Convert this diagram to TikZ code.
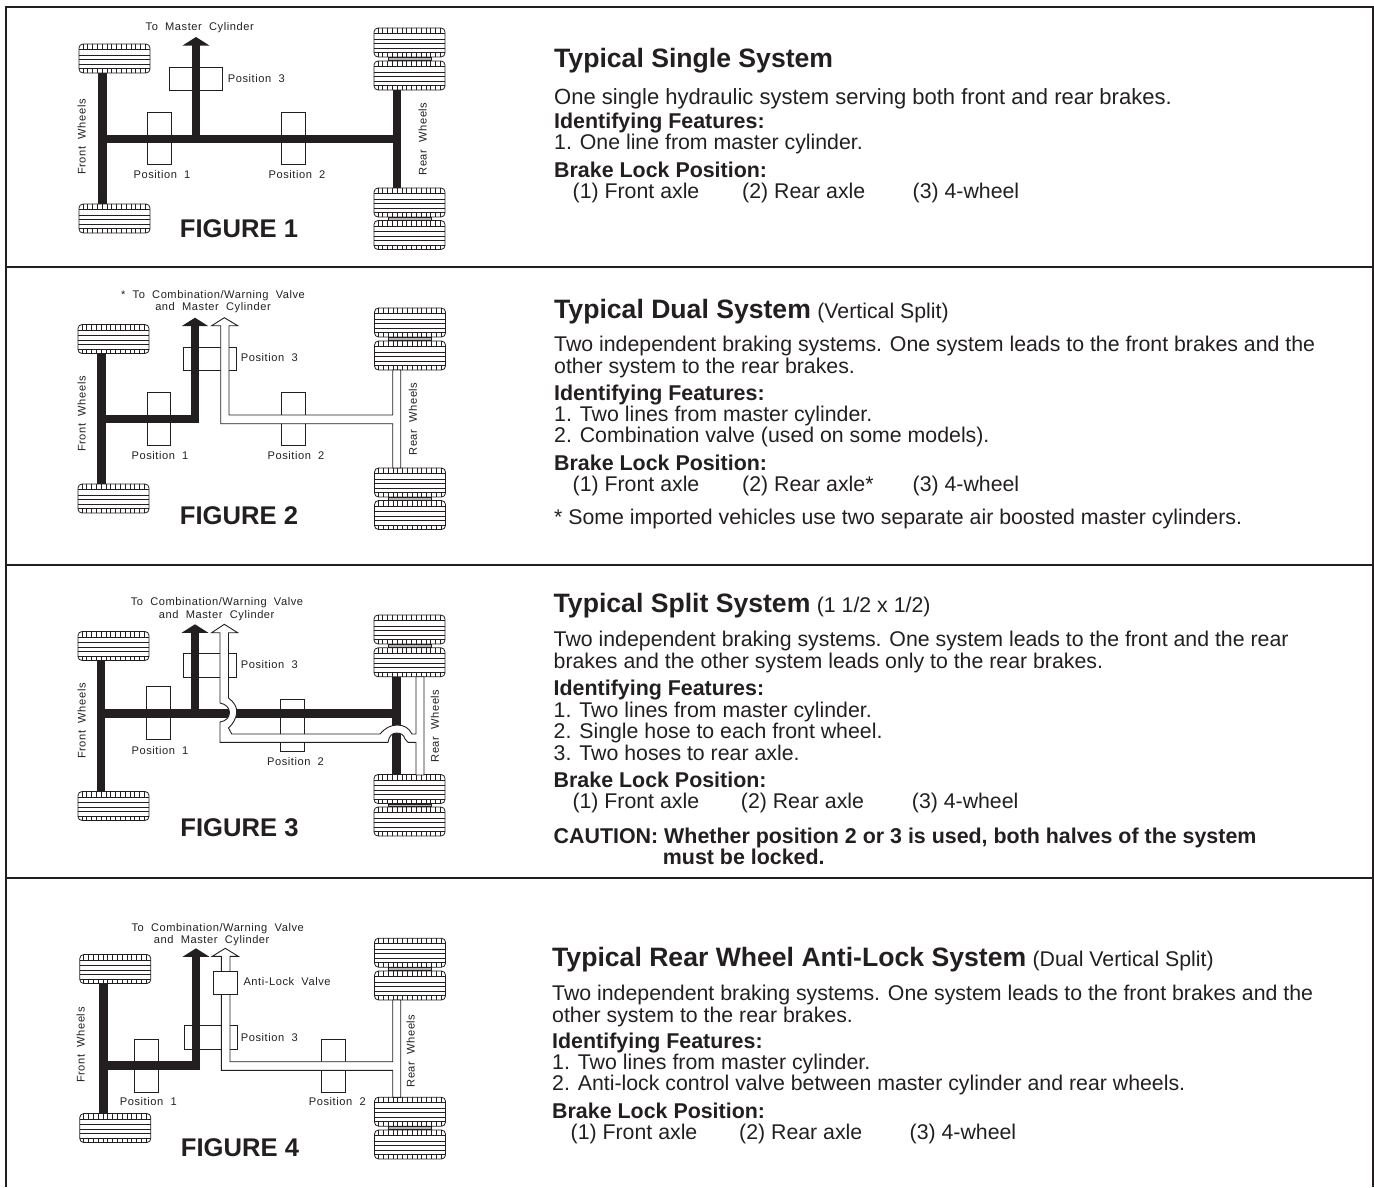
\documentclass[tikz,border=0pt]{standalone}
\usepackage{fontspec}
\setmainfont{Liberation Sans}
\newfontfamily\cadfont[LetterSpace=5,WordSpace=2]{Liberation Sans}
\usetikzlibrary{arrows.meta,positioning}
\definecolor{inkgrey}{RGB}{35,31,32}
\tikzset{
  tyre/.style={draw=inkgrey, line width=0.8pt, fill=white, rounded corners=4pt,
    minimum width=71pt, minimum height=29pt, inner sep=0pt,
    path picture={
      \foreach \ty in {5.5,11,15.5,20,24.5}
        \draw[line width=0.7pt, inkgrey] ([yshift=-\ty pt]path picture bounding box.north west) -- ([yshift=-\ty pt]path picture bounding box.north east);
      \foreach \tx in {4,8.8,...,68} {
        \draw[line width=0.7pt, inkgrey] ([xshift=\tx pt]path picture bounding box.north west) -- ++(0,-5.5pt);
        \draw[line width=0.7pt, inkgrey] ([xshift=\tx pt]path picture bounding box.south west) -- ++(0,4.5pt);
      }
    }},
  axle/.style={line width=8.5pt, inkgrey},
  arrowaxle/.style={axle, -{Triangle[length=8.5pt,width=26.5pt]}},
  hollowpipe/.style={draw=inkgrey, line width=0.9pt, fill=white},
  posbox/.style={draw=inkgrey, line width=0.9pt, fill=white, inner sep=0pt},
  posv/.style={posbox, minimum width=23.6pt, minimum height=52.6pt},
  posh/.style={posbox, minimum width=53pt, minimum height=23.4pt},
  twinlink/.style={draw=inkgrey, line width=0.6pt, fill=black!30},
  cadlabel/.style={font=\cadfont\fontsize{11.1}{12}\selectfont, text=inkgrey, inner sep=0pt},
  figlabel/.style={font=\bfseries\fontsize{25.6}{30}\selectfont, text=inkgrey, inner sep=0pt},
  titletext/.style={font=\bfseries\fontsize{26.6}{30}\selectfont, text=inkgrey, inner sep=0pt, anchor=base west},
  subtext/.style={font=\fontsize{21.3}{25}\selectfont, text=inkgrey, inner sep=0pt, anchor=base west},
  headtext/.style={font=\bfseries\fontsize{21.4}{25}\selectfont, text=inkgrey, inner sep=0pt, anchor=base west},
  bodytext/.style={font=\fontsize{21.3}{25}\selectfont, text=inkgrey, inner sep=0pt, anchor=base west},
  widebody/.style={bodytext, font=\fontsize{22}{25}\selectfont},
  frameline/.style={line width=2pt, inkgrey}
}
\newcommand{\twin}[2]{\draw[twinlink] ([xshift=-21.5pt]#1.south) rectangle ([xshift=21.5pt]#2.north);}
\begin{document}
\begin{tikzpicture}[x=1pt,y=-1pt]
  \useasboundingbox (0,0) rectangle (1374,1187);

  % Frame
  \draw[frameline] (6,1187) -- (6,7) -- (1373,7) -- (1373,1187);
  \draw[frameline] (6,267) -- (1373,267);
  \draw[frameline] (6,565) -- (1373,565);
  \draw[frameline] (6,878) -- (1373,878);

  % Figure 1
  \node[posv] (pos1a) at (159.5,138.5) {};
  \node[posv] (pos1b) at (293.5,138.5) {};
  \node[posh] (pos1c) at (196.3,79) {};
  \node[tyre] (ftop1) at (114.5,58.5) {};
  \node[tyre] (fbot1) at (114.5,218.5) {};
  \node[tyre] (rupa1) at (409.5,42.5) {};
  \node[tyre] (rupb1) at (409.5,75.5) {};
  \node[tyre] (rlowa1) at (409.5,202.5) {};
  \node[tyre] (rlowb1) at (409.5,235) {};
  \twin{rupa1}{rupb1}
  \twin{rlowa1}{rlowb1}
  \coordinate (jleft1) at (102.5,139);
  \coordinate (jright1) at (397,139);
  \coordinate (jmid1) at (196,139);
  \coordinate (tip1) at (196,37);
  \draw[axle] ([xshift=-12pt]ftop1.south) -- ([xshift=-12pt]fbot1.north);
  \draw[axle] ([xshift=-12.5pt]rupb1.south) -- ([xshift=-12.5pt]rlowa1.north);
  \draw[axle] (jleft1) -- (jright1);
  \draw[arrowaxle] (jmid1) -- (tip1);
  \node[cadlabel] (to1) at (199.7,28) {To Master Cylinder};
  \node[cadlabel, anchor=west] (lab1c) at (227.7,79) {Position 3};
  \node[cadlabel] (lab1a) at (162,175) {Position 1};
  \node[cadlabel] (lab1b) at (297,175) {Position 2};
  \node[cadlabel, rotate=90] (lab1f) at (81.7,137) {Front Wheels};
  \node[cadlabel, rotate=90] (lab1r) at (422.7,139) {Rear Wheels};
  \node[figlabel] (fig1) at (239,229) {FIGURE 1};

  % Text of figure 1
  \node[titletext] (title1) at (554,67) {Typical Single System};
  \node[widebody] (line1a) at (554,104) {One single hydraulic system serving both front and rear brakes.};
  \node[headtext] (id1) at (554,128) {Identifying Features:};
  \node[bodytext] (line1b) at (554,149) {1. One line from master cylinder.};
  \node[headtext] (lock1) at (554,177) {Brake Lock Position:};
  \node[bodytext] (lock1a) at (572.5,198) {(1) Front axle};
  \node[bodytext] (lock1b) at (742,198) {(2) Rear axle};
  \node[bodytext] (lock1c) at (912.5,198) {(3) 4-wheel};

  % Figure 2
  \node[posv] (pos2a) at (159,419) {};
  \node[posv] (pos2b) at (293.3,419) {};
  \node[posh] (pos2c) at (210,359) {};
  \node[tyre] (ftop2) at (113.5,339) {};
  \node[tyre] (fbot2) at (113.5,498.5) {};
  \node[tyre] (rupa2) at (410,322.5) {};
  \node[tyre] (rupb2) at (410,355.5) {};
  \node[tyre] (rlowa2) at (410,482.5) {};
  \node[tyre] (rlowb2) at (410,515) {};
  \twin{rupa2}{rupb2}
  \twin{rlowa2}{rlowb2}
  \coordinate (jleft2) at (101.7,419);
  \coordinate (jmid2) at (195,419);
  \coordinate (tip2) at (195,317.7);
  \draw[axle] ([xshift=-11.8pt]ftop2.south) -- ([xshift=-11.8pt]fbot2.north);
  \draw[arrowaxle] (jleft2) -- (jmid2) -- (tip2);
  \draw[hollowpipe] (224.3,317.7) -- (237.7,325.7) -- (229,325.7) -- (229,415) -- (392.7,415) -- (392.7,370) -- (400.7,370)
    -- (400.7,468) -- (392.7,468) -- (392.7,423.7) -- (220.7,423.7) -- (220.7,325.7) -- (211.7,325.7) -- cycle;
  \node[cadlabel] (to2a) at (213,296) {* To Combination/Warning Valve};
  \node[cadlabel] (to2b) at (213,307.7) {and Master Cylinder};
  \node[cadlabel, anchor=west] (lab2c) at (240.7,358) {Position 3};
  \node[cadlabel] (lab2a) at (160,455.7) {Position 1};
  \node[cadlabel] (lab2b) at (296,455.7) {Position 2};
  \node[cadlabel, rotate=90] (lab2f) at (81.7,414) {Front Wheels};
  \node[cadlabel, rotate=90] (lab2r) at (413,419) {Rear Wheels};
  \node[figlabel] (fig2) at (239,516) {FIGURE 2};

  % Text of figure 2
  \node[titletext] (title2) at (554,318) {Typical Dual System};
  \node[subtext, right=6pt of title2.base east, anchor=base west] (sub2) {(Vertical Split)};
  \node[bodytext] (line2a) at (554,351) {Two independent braking systems. One system leads to the front brakes and the};
  \node[bodytext] (line2b) at (554,373) {other system to the rear brakes.};
  \node[headtext] (id2) at (554,400) {Identifying Features:};
  \node[bodytext] (line2c) at (554,421) {1. Two lines from master cylinder.};
  \node[bodytext] (line2d) at (554,442) {2. Combination valve (used on some models).};
  \node[headtext] (lock2) at (554,470) {Brake Lock Position:};
  \node[bodytext] (lock2a) at (572.5,491) {(1) Front axle};
  \node[bodytext] (lock2b) at (742,491) {(2) Rear axle*};
  \node[bodytext] (lock2c) at (912.5,491) {(3) 4-wheel};
  \node[bodytext] (note2) at (554,524) {* Some imported vehicles use two separate air boosted master cylinders.};

  % Figure 3
  \node[posv] (pos3a) at (158.5,713) {};
  \node[posv] (pos3b) at (292.5,725.5) {};
  \node[posh] (pos3c) at (209.8,665.5) {};
  \node[tyre] (ftop3) at (113.5,646) {};
  \node[tyre] (fbot3) at (113.5,806) {};
  \node[tyre] (rupa3) at (409.5,629.5) {};
  \node[tyre] (rupb3) at (409.5,662.3) {};
  \node[tyre] (rlowa3) at (409.5,789) {};
  \node[tyre] (rlowb3) at (409.5,821.5) {};
  \twin{rupa3}{rupb3}
  \twin{rlowa3}{rlowb3}
  \coordinate (jleft3) at (101,713.3);
  \coordinate (jright3) at (396.7,713.3);
  \coordinate (jmid3) at (195,713.3);
  \coordinate (tip3) at (195,624.3);
  \draw[axle] ([xshift=-12.5pt]ftop3.south) -- ([xshift=-12.5pt]fbot3.north);
  \draw[axle] ([xshift=-12.8pt]rupb3.south) -- ([xshift=-12.8pt]rlowa3.north);
  \draw[axle] (jleft3) -- (jright3);
  \draw[arrowaxle] (jmid3) -- (tip3);
  \draw[hollowpipe] (224.3,624.3) -- (237.7,632.7) -- (228.5,632.7) -- (228.5,698)
    .. controls (234,702) and (237,707) .. (236.7,712) .. controls (236.5,718) and (233,724) .. (228.5,728)
    -- (231.7,734) -- (380,734)
    .. controls (385,728) and (391,725) .. (397.3,725) .. controls (404,725) and (409,728) .. (412,734)
    -- (416,734) -- (416,676.7) -- (424,676.7) -- (424,775) -- (416,775) -- (416,742.3) -- (408,742.3) -- (405,739)
    .. controls (404,735) and (401,733) .. (396.7,733) .. controls (392,733) and (389,736) .. (388,742.3)
    -- (220,742.3) -- (220,722)
    .. controls (226,721) and (229.5,717.5) .. (229.5,712.5) .. controls (229.5,708) and (226,704) .. (220,703)
    -- (220,632.7) -- (211.7,632.7) -- cycle;
  \node[cadlabel] (to3a) at (217,602.7) {To Combination/Warning Valve};
  \node[cadlabel] (to3b) at (216.7,615.7) {and Master Cylinder};
  \node[cadlabel, anchor=west] (lab3c) at (240.7,665) {Position 3};
  \node[cadlabel] (lab3a) at (160,750.7) {Position 1};
  \node[cadlabel] (lab3b) at (295.5,761.7) {Position 2};
  \node[cadlabel, rotate=90] (lab3f) at (81.7,721) {Front Wheels};
  \node[cadlabel, rotate=90] (lab3r) at (435,726) {Rear Wheels};
  \node[figlabel] (fig3) at (239.5,828) {FIGURE 3};

  % Text of figure 3
  \node[titletext] (title3) at (553.5,612.7) {Typical Split System};
  \node[subtext, right=6pt of title3.base east, anchor=base west] (sub3) {(1 1/2 x 1/2)};
  \node[bodytext] (line3a) at (553.5,646) {Two independent braking systems. One system leads to the front and the rear};
  \node[bodytext] (line3b) at (553.5,668.7) {brakes and the other system leads only to the rear brakes.};
  \node[headtext] (id3) at (553.5,695.7) {Identifying Features:};
  \node[bodytext] (line3c) at (553.5,717.3) {1. Two lines from master cylinder.};
  \node[bodytext] (line3d) at (553.5,738.3) {2. Single hose to each front wheel.};
  \node[bodytext] (line3e) at (553.5,760) {3. Two hoses to rear axle.};
  \node[headtext] (lock3) at (553.5,787.3) {Brake Lock Position:};
  \node[bodytext] (lock3a) at (572.3,808.3) {(1) Front axle};
  \node[bodytext] (lock3b) at (740.7,808.3) {(2) Rear axle};
  \node[bodytext] (lock3c) at (911.7,808.3) {(3) 4-wheel};
  \node[headtext] (warn3a) at (553.5,843.3) {CAUTION: Whether position 2 or 3 is used, both halves of the system};
  \node[headtext] (warn3b) at (662.7,864.3) {must be locked.};

  % Figure 4
  \node[posv] (pos4a) at (146.3,1066) {};
  \node[posv] (pos4b) at (333.7,1066) {};
  \node[posh] (pos4c) at (210.8,1037.5) {};
  \node[tyre] (ftop4) at (115.3,969) {};
  \node[tyre] (fbot4) at (115.3,1128) {};
  \node[tyre] (rupa4) at (410,952.7) {};
  \node[tyre] (rupb4) at (410,985.5) {};
  \node[tyre] (rlowa4) at (410,1111.7) {};
  \node[tyre] (rlowb4) at (410,1144.5) {};
  \twin{rupa4}{rupb4}
  \twin{rlowa4}{rlowb4}
  \coordinate (jleft4) at (103.3,1065.7);
  \coordinate (jmid4) at (196,1065.7);
  \coordinate (tip4) at (196,948.3);
  \draw[axle] ([xshift=-12pt]ftop4.south) -- ([xshift=-12pt]fbot4.north);
  \draw[arrowaxle] (jleft4) -- (jmid4) -- (tip4);
  \draw[hollowpipe] (225.3,948.3) -- (238.3,956.3) -- (230,956.3) -- (230,1061.7) -- (392.7,1061.7) -- (392.7,1000) -- (400.7,1000)
    -- (400.7,1097.3) -- (392.7,1097.3) -- (392.7,1070.3) -- (221.3,1070.3) -- (221.3,956.3) -- (212.3,956.3) -- cycle;
  \node[posbox, minimum width=23.6pt, minimum height=22.4pt] (valve4) at (225.5,982.8) {};
  \node[cadlabel] (to4a) at (217.7,928.3) {To Combination/Warning Valve};
  \node[cadlabel] (to4b) at (211.7,941) {and Master Cylinder};
  \node[cadlabel, anchor=west] (lab4v) at (243.3,981.7) {Anti-Lock Valve};
  \node[cadlabel, anchor=west] (lab4c) at (240.7,1037.3) {Position 3};
  \node[cadlabel] (lab4a) at (148.3,1101.7) {Position 1};
  \node[cadlabel] (lab4b) at (337.3,1101.7) {Position 2};
  \node[cadlabel, rotate=90] (lab4f) at (80.7,1045) {Front Wheels};
  \node[cadlabel, rotate=90] (lab4r) at (410.7,1051) {Rear Wheels};
  \node[figlabel] (fig4) at (240,1148) {FIGURE 4};

  % Text of figure 4
  \node[titletext] (title4) at (552,966) {Typical Rear Wheel Anti-Lock System};
  \node[subtext, right=6pt of title4.base east, anchor=base west] (sub4) {(Dual Vertical Split)};
  \node[bodytext] (line4a) at (552,1000) {Two independent braking systems. One system leads to the front brakes and the};
  \node[bodytext] (line4b) at (552,1022) {other system to the rear brakes.};
  \node[headtext] (id4) at (552,1048) {Identifying Features:};
  \node[bodytext] (line4c) at (552,1069) {1. Two lines from master cylinder.};
  \node[bodytext] (line4d) at (552,1090) {2. Anti-lock control valve between master cylinder and rear wheels.};
  \node[headtext] (lock4) at (552,1118) {Brake Lock Position:};
  \node[bodytext] (lock4a) at (570.5,1139) {(1) Front axle};
  \node[bodytext] (lock4b) at (739,1139) {(2) Rear axle};
  \node[bodytext] (lock4c) at (909.5,1139) {(3) 4-wheel};
\end{tikzpicture}
\end{document}
